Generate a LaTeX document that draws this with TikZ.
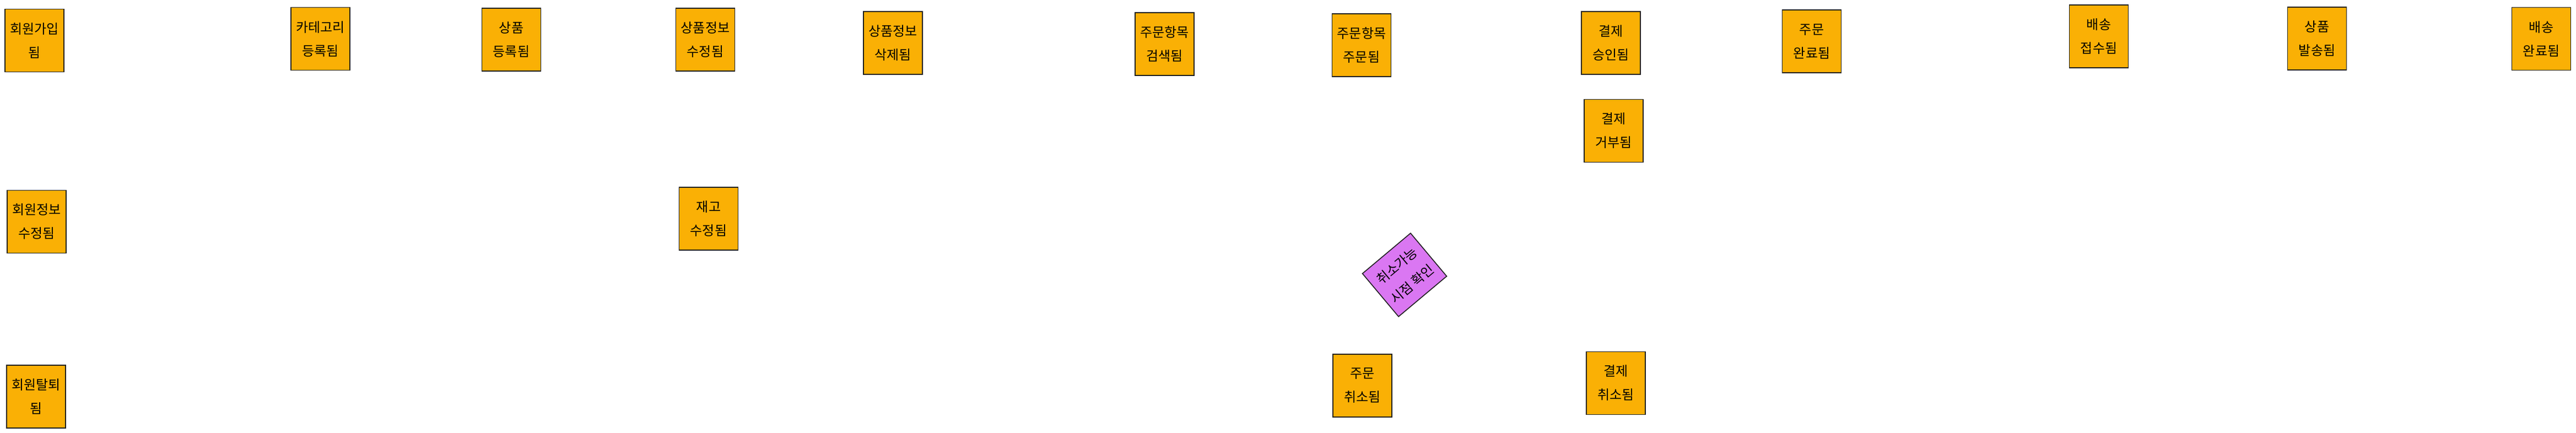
\documentclass[tikz,border=0pt]{standalone}
\usepackage{fontspec}
\newfontfamily\kr{Noto Sans CJK KR}
\newlength{\du}
\setlength{\du}{1pt}
\definecolor{stickycolor}{HTML}{FAB005}
\definecolor{policycolor}{HTML}{DA77F2}
\definecolor{dialinecolor}{HTML}{1E1E1E}
\tikzset{
  event/.style={draw=dialinecolor, fill=stickycolor, line width=1.6\du, minimum width=107\du, minimum height=114\du, inner sep=0pt, align=center, font=\kr\fontsize{24}{43}\selectfont},
  policy/.style={event, fill=policycolor, minimum width=114\du, minimum height=102\du, rotate=40},
}
\begin{document}
\begin{tikzpicture}
\pgftransformxscale{1.000000}
\pgftransformyscale{-1.000000}
\useasboundingbox (0\du,0\du) rectangle (4675\du,786\du);
% top row
\node[event] (memberJoined) at (62.5\du,73.5\du){회원가입\\됨};
\node[event] (categoryAdded) at (581.5\du,70.5\du){카테고리\\등록됨};
\node[event] (productAdded) at (928\du,72\du){상품\\등록됨};
\node[event] (productEdited) at (1280\du,72\du){상품정보\\수정됨};
\node[event] (productDeleted) at (1620.5\du,78\du){상품정보\\삭제됨};
\node[event] (itemSearched) at (2113.5\du,80\du){주문항목\\검색됨};
\node[event] (itemOrdered) at (2471\du,82\du){주문항목\\주문됨};
\node[event] (paymentApproved) at (2923.5\du,78\du){결제\\승인됨};
\node[event] (orderDone) at (3288\du,75\du){주문\\완료됨};
\node[event] (deliveryAccepted) at (3809\du,66\du){배송\\접수됨};
\node[event] (productShipped) at (4205\du,70\du){상품\\발송됨};
\node[event] (deliveryDone) at (4612\du,70.5\du){배송\\완료됨};
% lower rows
\node[event] (paymentRejected) at (2928.5\du,237.5\du){결제\\거부됨};
\node[event] (memberEdited) at (66.5\du,402.5\du){회원정보\\수정됨};
\node[event] (stockEdited) at (1286\du,397\du){재고\\수정됨};
\node[policy] (cancelCheck) at (2549\du,499\du){취소가능\\시점 확인};
\node[event] (orderCancelled) at (2472.5\du,700\du){주문\\취소됨};
\node[event] (paymentCancelled) at (2932.5\du,695.5\du){결제\\취소됨};
\node[event] (memberLeft) at (65.5\du,720\du){회원탈퇴\\됨};
\end{tikzpicture}
\end{document}
